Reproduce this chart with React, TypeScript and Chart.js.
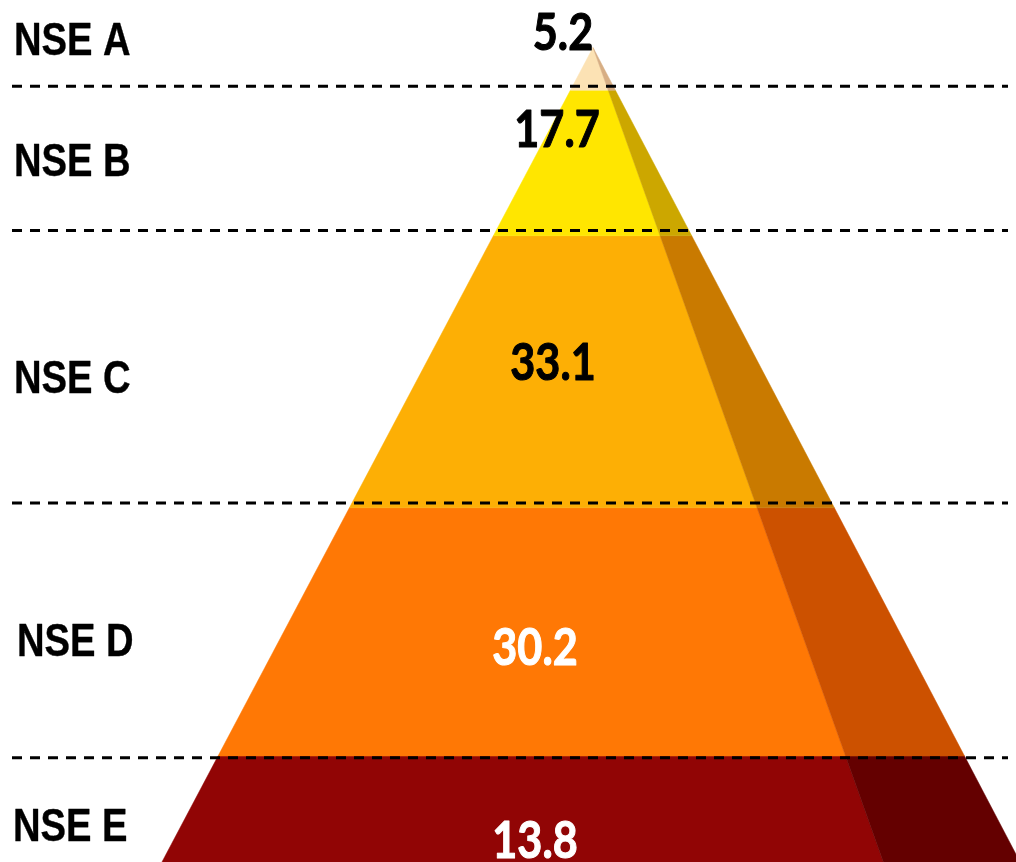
import { useEffect, useRef } from 'react';
import { Chart, registerables } from 'chart.js';

Chart.register(...registerables);

// ---- data ----
const categories = ['NSE A', 'NSE B', 'NSE C', 'NSE D', 'NSE E'];
const shares = [5.2, 17.7, 33.1, 30.2, 13.8];
const valueLabels = ['5.2', '17.7', '33.1', '30.2', '13.8'];

// ---- styles ----
const frontColors = ['#FCE2B4', '#FFE600', '#FDAF05', '#FF7805', '#910505'];
const sideColors = ['#D7AE84', '#CCA700', '#C97A00', '#CC5100', '#640000'];
const valueTextColors = ['#000000', '#000000', '#000000', '#FFFFFF', '#FFFFFF'];

// ---- layout constants ----
const APEX_X = 593;
const SLOPE_LEFT = 4.35;
const SLOPE_RIGHT = 4.31;
const SLOPE_INNER = 2.93;
const Y_MIN = -5.78;
const Y_MAX = 99.09;
const LEFT_LABEL_X = [14, 14, 14, 17, 13];
const LEFT_LABEL_DY = [-3.7, -0.4, 0.6, 0.9, 1.4];
const VALUE_DX = [-30, -36, -40, -58, -58];
const VALUE_DY = [-4.55, -4.14, -1.25, 1.77, 3.2];
const DASH_SHIFT = [-0.5, -0.65, -0.6, 0.2];
const DASH_X0 = 12;
const DASH_X1 = 1008;

const bounds: number[] = [0];
shares.forEach((s, i) => bounds.push(bounds[i] + s));

const leftX = (d: number) => APEX_X - SLOPE_LEFT * d;
const rightX = (d: number) => APEX_X + SLOPE_RIGHT * d;
const innerX = (d: number) => APEX_X + SLOPE_INNER * d;

function buildDatasets() {
  const ds: any[] = [];
  shares.forEach((_, i) => {
    const d0 = bounds[i];
    const d1 = bounds[i + 1];
    ds.push({
      label: categories[i] + ' front',
      data: [
        { x: leftX(d0), y: d0 },
        { x: innerX(d0), y: d0 },
        { x: innerX(d1), y: d1 },
        { x: leftX(d1), y: d1 },
        { x: leftX(d0), y: d0 },
      ],
      showLine: true,
      fill: 'shape',
      backgroundColor: frontColors[i],
      borderColor: frontColors[i],
      borderWidth: 0.5,
      pointRadius: 0,
      order: 10,
    });
    ds.push({
      label: categories[i] + ' side',
      data: [
        { x: innerX(d0), y: d0 },
        { x: rightX(d0), y: d0 },
        { x: rightX(d1), y: d1 },
        { x: innerX(d1), y: d1 },
        { x: innerX(d0), y: d0 },
      ],
      showLine: true,
      fill: 'shape',
      backgroundColor: sideColors[i],
      borderColor: sideColors[i],
      borderWidth: 0.5,
      pointRadius: 0,
      order: 9,
    });
  });
  for (let k = 1; k < bounds.length - 1; k++) {
    const y = bounds[k] + DASH_SHIFT[k - 1];
    ds.push({
      label: 'divider ' + k,
      data: [
        { x: DASH_X0, y },
        { x: DASH_X1, y },
      ],
      showLine: true,
      fill: false,
      borderColor: '#000000',
      borderWidth: 3,
      borderDash: [10, 8],
      pointRadius: 0,
      order: 1,
    });
  }
  return ds;
}

const labelPlugin = {
  id: 'pyramidLabels',
  afterDraw(chart: any) {
    const ctx = chart.ctx as CanvasRenderingContext2D;
    const xs = chart.scales.x;
    const ys = chart.scales.y;
    ctx.save();
    categories.forEach((cat, i) => {
      const mid = (bounds[i] + bounds[i + 1]) / 2;
      // left category labels
      const ly = ys.getPixelForValue(mid + LEFT_LABEL_DY[i]);
      ctx.save();
      ctx.translate(LEFT_LABEL_X[i], ly + 16.5);
      ctx.scale(0.83, 1);
      ctx.font = 'bold 46px "Liberation Sans", Arial, sans-serif';
      ctx.fillStyle = '#000000';
      ctx.strokeStyle = '#000000';
      ctx.lineWidth = 0.4;
      ctx.lineJoin = 'round';
      ctx.textAlign = 'left';
      ctx.textBaseline = 'alphabetic';
      ctx.fillText(cat, 0, 0);
      ctx.strokeText(cat, 0, 0);
      ctx.restore();
      // value labels
      const vx = xs.getPixelForValue(APEX_X + VALUE_DX[i]);
      const vy = ys.getPixelForValue(mid + VALUE_DY[i]);
      ctx.save();
      ctx.translate(vx, vy + 18.5);
      ctx.scale(0.83, 1);
      ctx.font = 'bold 52px Lato, "Open Sans", sans-serif';
      ctx.fillStyle = valueTextColors[i];
      ctx.strokeStyle = valueTextColors[i];
      ctx.lineWidth = 1.1;
      ctx.lineJoin = 'round';
      ctx.textAlign = 'center';
      ctx.textBaseline = 'alphabetic';
      ctx.fillText(valueLabels[i], 0, 0);
      ctx.strokeText(valueLabels[i], 0, 0);
      ctx.restore();
    });
    ctx.restore();
  },
};

export default function App() {
  const ref = useRef<HTMLCanvasElement | null>(null);
  useEffect(() => {
    if (!ref.current) return;
    const chart = new Chart(ref.current, {
      type: 'scatter',
      data: { datasets: buildDatasets() },
      options: {
        animation: false,
        responsive: false,
        maintainAspectRatio: false,
        layout: { padding: 0 },
        plugins: {
          legend: { display: false },
          tooltip: { enabled: false },
        },
        scales: {
          x: { type: 'linear', min: 0, max: 1016, display: false },
          y: { type: 'linear', min: Y_MIN, max: Y_MAX, reverse: true, display: false },
        },
      },
      plugins: [labelPlugin],
    } as any);
    return () => chart.destroy();
  }, []);
  return (
    <div style={{ position: 'absolute', left: 0, top: 0, width: 1016, height: 862, background: '#ffffff' }}>
      <canvas ref={ref} width={1016} height={862} style={{ display: 'block', width: 1016, height: 862 }} />
    </div>
  );
}
